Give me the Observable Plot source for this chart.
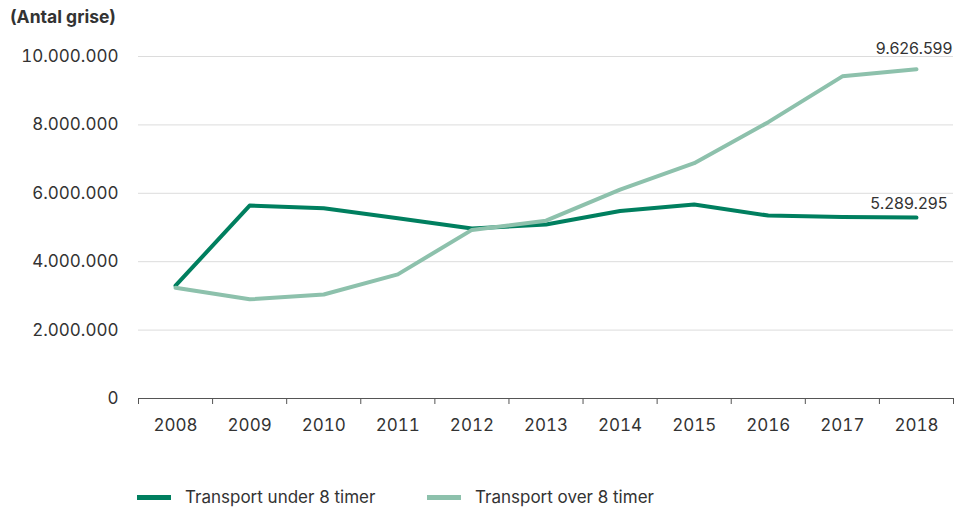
<!DOCTYPE html>
<html>
<head>
<meta charset="utf-8">
<script src="https://cdn.jsdelivr.net/npm/d3@7"></script>
<script src="https://cdn.jsdelivr.net/npm/@observablehq/plot@0.6"></script>
<style>
  body { margin: 0; background: #fff; font-family: Inter, "Noto Sans", sans-serif; color: #333; }
  #title { height: 34px; line-height: 34px; padding-left: 10px; font-weight: 700; font-size: 17.5px; color: #333; }
  #legend { position: relative; height: 30px; margin-top: 28px; font-size: 17px; color: #333; }
  .item { position: absolute; top: 0; height: 30px; display: flex; align-items: center; }
  .sw { width: 34px; height: 5px; margin-right: 14px; }
</style>
</head>
<body>
<div id="title">(Antal grise)</div>
<div id="chart"></div>
<div id="legend"></div>
<script>
const years = [2008, 2009, 2010, 2011, 2012, 2013, 2014, 2015, 2016, 2017, 2018];
const under8 = [3300000, 5640000, 5560000, 5270000, 4970000, 5090000, 5480000, 5670000, 5350000, 5310000, 5289295];
const over8 = [3240000, 2900000, 3040000, 3630000, 4930000, 5200000, 6110000, 6880000, 8080000, 9420000, 9626599];
const seriesNames = ["Transport under 8 timer", "Transport over 8 timer"];
const colors = ["#007f5f", "#8dc1ac"];
const yTicks = [0, 2000000, 4000000, 6000000, 8000000, 10000000];

const locale = d3.formatLocale({decimal: ",", thousands: ".", grouping: [3], currency: ["", ""]});
const fmt = locale.format(",");

const rows = [];
years.forEach((yr, i) => {
  rows.push({year: yr, value: under8[i], series: seriesNames[0]});
  rows.push({year: yr, value: over8[i], series: seriesNames[1]});
});
const edges = [years[0] - 0.5, ...years.map(y => y + 0.5)];
const last = years.length - 1;

const chart = Plot.plot({
  width: 955,
  height: 420,
  marginLeft: 138,
  marginRight: 2,
  marginTop: 22,
  marginBottom: 56,
  style: {fontFamily: "Inter, 'Noto Sans', sans-serif", fontSize: "17px", color: "#333", background: "#fff"},
  x: {domain: [edges[0], edges[edges.length - 1]]},
  y: {domain: [0, 10000000]},
  color: {domain: seriesNames, range: colors},
  marks: [
    Plot.gridY(yTicks.slice(1), {stroke: "#dcdcdc", strokeOpacity: 1, strokeWidth: 1}),
    Plot.axisY({ticks: yTicks, tickSize: 0, tickPadding: 20, tickFormat: fmt, label: null, fill: "#333", fontSize: 17}),
    Plot.axisX({ticks: years, tickSize: 0, tickPadding: 20, tickFormat: d => String(d), label: null, fill: "#333", fontSize: 17}),
    Plot.axisX({ticks: edges, tickSize: 6, tickFormat: () => "", label: null, stroke: "#555"}),
    Plot.ruleY([0], {stroke: "#555", strokeWidth: 1}),
    Plot.line(rows, {x: "year", y: "value", z: "series", stroke: "series", strokeWidth: 4, curve: "linear"}),
    Plot.text([{year: years[last], value: over8[last]}], {x: "year", y: "value", text: d => fmt(d.value), textAnchor: "end", dx: 36, dy: -20, fill: "#333", fontSize: 16}),
    Plot.text([{year: years[last], value: under8[last]}], {x: "year", y: "value", text: d => fmt(d.value), textAnchor: "end", dx: 31, dy: -14, fill: "#333", fontSize: 16})
  ]
});
document.getElementById("chart").appendChild(chart);

const legend = document.getElementById("legend");
const legendLeft = [137, 427];
seriesNames.forEach((name, i) => {
  const item = document.createElement("div");
  item.className = "item";
  item.style.left = legendLeft[i] + "px";
  const sw = document.createElement("div");
  sw.className = "sw";
  sw.style.background = colors[i];
  const t = document.createElement("span");
  t.textContent = name;
  item.appendChild(sw);
  item.appendChild(t);
  legend.appendChild(item);
});
</script>
</body>
</html>
